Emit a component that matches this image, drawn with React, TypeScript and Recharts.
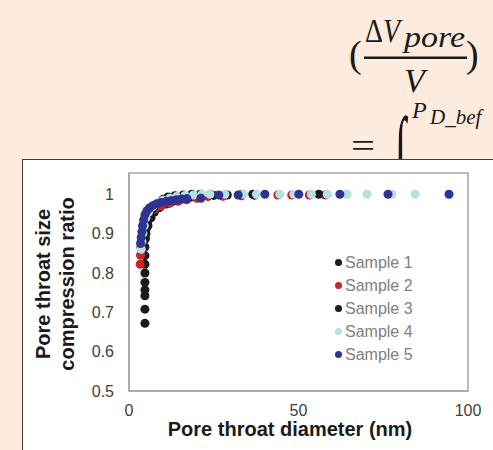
import { Legend, ReferenceArea, Scatter, ScatterChart, XAxis, YAxis, ZAxis } from "recharts";

// pore throat diameter (nm) / compression ratio
const sample1X = [4.7, 4.7, 4.7, 4.7, 4.7, 4.7, 4.7, 4.7, 4.7, 4.8, 5.0, 5.6, 6.5, 7.5, 9, 11, 13, 15.5, 18, 21, 25, 29, 33];
const sample1Y = [0.672, 0.708, 0.742, 0.757, 0.776, 0.8, 0.822, 0.844, 0.866, 0.886, 0.9, 0.92, 0.94, 0.955, 0.966, 0.975, 0.982, 0.988, 0.992, 0.995, 0.997, 0.998, 0.999];

const sample2X = [3.3, 3.4, 3.5, 3.7, 4.0, 4.4, 5.0, 6, 7.5, 9.5, 12, 14.5, 17, 20, 23.3, 27.7, 33.2, 37.0, 43.9, 48.0, 53.2, 57.9];
const sample2Y = [0.822, 0.845, 0.865, 0.885, 0.905, 0.925, 0.94, 0.952, 0.962, 0.97, 0.977, 0.982, 0.986, 0.99, 0.994, 0.995, 0.996, 0.997, 0.998, 0.998, 0.998, 0.998];

const sample3X = [4.8, 5.0, 5.5, 6.2, 7.2, 8.5, 10, 11.5, 13.5, 16, 18.5, 21, 24, 36.5, 56];
const sample3Y = [0.89, 0.91, 0.93, 0.95, 0.965, 0.977, 0.987, 0.993, 0.996, 0.998, 1, 1, 1, 1, 1];

const sample4X = [3.6, 3.8, 4.1, 4.5, 5.0, 5.8, 7, 8.5, 10, 12, 14, 16.5, 19, 21.5, 23.9, 28.3, 33.8, 37.6, 44.5, 48.6, 53.8, 58.5, 64.3, 70.2, 77.6, 84.4];
const sample4Y = [0.86, 0.88, 0.9, 0.92, 0.94, 0.955, 0.968, 0.978, 0.985, 0.99, 0.994, 0.997, 0.998, 1, 1, 1, 1, 1, 1, 1, 1, 1, 1, 1, 1, 1];

const sample5X = [3.4, 3.6, 3.8, 4.0, 4.3, 4.7, 5.3, 6, 7, 8.2, 9.5, 11, 12.5, 14, 15.5, 17.1, 21.2, 26.5, 32.2, 40.1, 50.1, 62.2, 76.4, 94.4];
const sample5Y = [0.875, 0.89, 0.905, 0.92, 0.935, 0.948, 0.958, 0.965, 0.971, 0.976, 0.979, 0.982, 0.984, 0.986, 0.988, 0.989, 0.99, 0.998, 0.998, 1, 1, 1, 1, 1];

const xTicks = [0, 50, 100];
const yTicks = [0.5, 0.6, 0.7, 0.8, 0.9, 1];

const toPoints = (xs: number[], ys: number[]) => xs.map((x, i) => ({ x, y: ys[i] }));

const SERIES = [
  { name: "Sample 1", color: "#1c1b1c", data: toPoints(sample1X, sample1Y) },
  { name: "Sample 2", color: "#cc2229", data: toPoints(sample2X, sample2Y) },
  { name: "Sample 3", color: "#1c1b1c", data: toPoints(sample3X, sample3Y) },
  { name: "Sample 4", color: "#b6e0e3", data: toPoints(sample4X, sample4Y) },
  { name: "Sample 5", color: "#2d3491", data: toPoints(sample5X, sample5Y) },
];

const FONT = "'Liberation Sans', Arial, sans-serif";

function LegendBox() {
  return (
    <div style={{ fontFamily: FONT, fontSize: 16, color: "#808080", lineHeight: "23px" }}>
      {SERIES.map((s) => (
        <div key={s.name} style={{ display: "flex", alignItems: "center" }}>
          <span
            style={{ width: 7, height: 7, borderRadius: "50%", background: s.color, marginRight: 3 }}
          />
          {s.name}
        </div>
      ))}
    </div>
  );
}

const YTitle = () => (
  <g fontFamily={FONT} fontWeight="bold" fontSize={20} fill="#1a1a1a" textAnchor="middle">
    <text x={50} y={284} transform="rotate(-90 50 284)">Pore throat size</text>
    <text x={74} y={284} transform="rotate(-90 74 284)">compression ratio</text>
  </g>
);

const XTitle = () => (
  <text x={290} y={436} fontFamily={FONT} fontWeight="bold" fontSize={20} fill="#1a1a1a" textAnchor="middle">
    Pore throat diameter (nm)
  </text>
);

function Formula() {
  const serif = "'Liberation Serif', 'DejaVu Serif', serif";
  return (
    <svg width={493} height={200} style={{ position: "absolute", left: 0, top: 0 }}>
      <g fontFamily={serif} fill="#1a1a1a">
        <text x={349} y={67} fontSize={38}>(</text>
        <text x={365} y={42} fontSize={33} textLength={35} lengthAdjust="spacingAndGlyphs">
          Δ<tspan fontStyle="italic">V</tspan>
        </text>
        <text x={404} y={47} fontSize={30} fontStyle="italic" textLength={61} lengthAdjust="spacingAndGlyphs">pore</text>
        <rect x={364} y={56.5} width={103} height={2.5} />
        <text x={404} y={92} fontSize={34} fontStyle="italic">V</text>
        <text x={466} y={67} fontSize={38}>)</text>
        <text x={351} y={157} fontSize={34} textLength={24} lengthAdjust="spacingAndGlyphs">=</text>
        <g transform="translate(395 184) scale(0.85 2)">
          <text x={0} y={0} fontSize={48}>∫</text>
        </g>
        <text x={412} y={118} fontSize={24} fontStyle="italic">P</text>
        <text x={430} y={124} fontSize={21} fontStyle="italic">D_bef</text>
      </g>
    </svg>
  );
}

export default function App() {
  return (
    <div
      style={{
        position: "absolute",
        left: 0,
        top: 0,
        width: 493,
        height: 450,
        overflow: "hidden",
        background: "#fdebdd",
      }}
    >
      <Formula />
      <div
        style={{
          position: "absolute",
          left: 22,
          top: 159,
          width: 500,
          height: 320,
          background: "#fff",
          border: "1px solid #3c3c3c",
        }}
      />
      <div style={{ position: "absolute", left: 0, top: 0 }}>
        <ScatterChart width={493} height={450} margin={{ top: 173, right: 25, bottom: 29, left: 89 }}>
          <XAxis
            type="number"
            dataKey="x"
            domain={[0, 100]}
            ticks={xTicks}
            height={30}
            tickLine={false}
            tickSize={0}
            tickMargin={14}
            axisLine={{ stroke: "#a6a6a6", strokeWidth: 1.5 }}
            tick={{ fontSize: 16, fill: "#404040", fontFamily: FONT }}
            label={{ content: () => <XTitle /> }}
          />
          <YAxis
            type="number"
            dataKey="y"
            domain={[0.5, 1.054]}
            ticks={yTicks}
            width={40}
            tickLine={false}
            tickSize={0}
            tickMargin={15}
            axisLine={{ stroke: "#a6a6a6", strokeWidth: 1.5 }}
            tick={{ fontSize: 16, fill: "#404040", fontFamily: FONT }}
            tickFormatter={(v: number) => String(v)}
            label={{ content: () => <YTitle /> }}
          />
          <ZAxis range={[40, 40]} />
          <ReferenceArea x1={0} x2={100} y1={0.5} y2={1.054} fill="none" stroke="#a6a6a6" strokeWidth={1.5} />
          {SERIES.map((s) => (
            <Scatter
              key={s.name}
              name={s.name}
              data={s.data}
              fill={s.color}
              shape="circle"
              isAnimationActive={false}
            />
          ))}
          <Legend
            layout="vertical"
            align="center"
            verticalAlign="middle"
            content={() => <LegendBox />}
            wrapperStyle={{ left: 335, top: 251, width: 120 }}
          />
        </ScatterChart>
      </div>
    </div>
  );
}
